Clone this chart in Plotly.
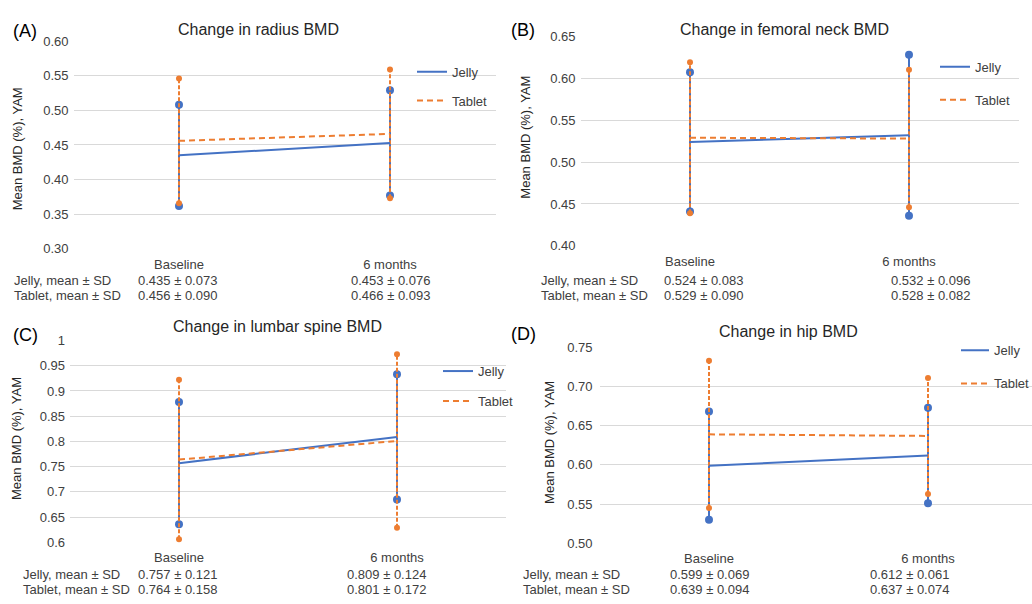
import plotly.graph_objects as go

W, H = 1032, 604

categories = ["Baseline", "6 months"]

radius_jelly_mean = [0.435, 0.453]
radius_jelly_sd = [0.073, 0.076]
radius_tablet_mean = [0.456, 0.466]
radius_tablet_sd = [0.090, 0.093]

femoral_jelly_mean = [0.524, 0.532]
femoral_jelly_sd = [0.083, 0.096]
femoral_tablet_mean = [0.529, 0.528]
femoral_tablet_sd = [0.090, 0.082]

lumbar_jelly_mean = [0.757, 0.809]
lumbar_jelly_sd = [0.121, 0.124]
lumbar_tablet_mean = [0.764, 0.801]
lumbar_tablet_sd = [0.158, 0.172]

hip_jelly_mean = [0.599, 0.612]
hip_jelly_sd = [0.069, 0.061]
hip_tablet_mean = [0.639, 0.637]
hip_tablet_sd = [0.094, 0.074]

panel_letters = ["(A)", "(B)", "(C)", "(D)"]
panel_titles = ["Change in radius BMD", "Change in femoral neck BMD",
                "Change in lumbar spine BMD", "Change in hip BMD"]
y_ranges = [[0.30, 0.60], [0.40, 0.65], [0.6, 1.0], [0.50, 0.75]]
y_formats = [".2f", ".2f", "", ".2f"]
series_names = ["Jelly", "Tablet"]
row_labels = ["Jelly, mean \u00b1 SD", "Tablet, mean \u00b1 SD"]

data = [
    [(radius_jelly_mean, radius_jelly_sd), (radius_tablet_mean, radius_tablet_sd)],
    [(femoral_jelly_mean, femoral_jelly_sd), (femoral_tablet_mean, femoral_tablet_sd)],
    [(lumbar_jelly_mean, lumbar_jelly_sd), (lumbar_tablet_mean, lumbar_tablet_sd)],
    [(hip_jelly_mean, hip_jelly_sd), (hip_tablet_mean, hip_tablet_sd)],
]

# ---- layout geometry (pixels) ----
geo = [
    dict(c0=179, c1=390, ytop=35, ybot=248, ylab=(17, 146), title=(258, 23), letter=(11, 25),
         legend=(412, 51, 9), rows=(280, 296), rowx=12, valshift=(-2, 0), ticks_gap=4),
    dict(c0=690, c1=909, ytop=30, ybot=245, ylab=(526, 134), title=(784, 23), letter=(509, 24),
         legend=(935, 46, 13), rows=(280, 296), rowx=539, valshift=(13, 21), ticks_gap=4),
    dict(c0=179, c1=397, ytop=342, ybot=549, ylab=(17, 443), title=(277, 328), letter=(11, 336),
         legend=(438, 358, 10), rows=(582, 597), rowx=21, valshift=(-2, -11), ticks_gap=4),
    # panel D key sits at the very right edge of the figure, so it is drawn as key marks
    dict(c0=709, c1=928, ytop=349, ybot=550, ylab=(550, 447), title=(788, 333), letter=(509, 335),
         legend=None, key=(961, 989, 992, (352, 386)),
         rows=(582, 597), rowx=521, valshift=(0, -19), ticks_gap=6),
]

BLUE = "#4472C4"
ORANGE = "#ED7D31"
FONT = "Liberation Sans, Arial, sans-serif"
TXT = "#404040"
colors = [BLUE, ORANGE]
mean_dash = ["solid", "6px,4px"]
bar_dash = ["solid", "4px,2px"]
cap_size = [8, 6]

fig = go.Figure()
annotations = []
shapes = []
layout = {}

for i in range(4):
    g = geo[i]
    sfx = "" if i == 0 else str(i + 1)
    xa, ya = "x" + sfx, "y" + sfx
    leg = "legend" + sfx
    step = g["c1"] - g["c0"]
    px0 = g["c0"] - step / 2
    px1 = g["c1"] + step / 2
    r0, r1 = -0.5, 1.5
    if px1 > W:
        r1 = 1.5 - (px1 - W) / step
        px1 = W
    layout["xaxis" + sfx] = dict(
        domain=[px0 / W, px1 / W], range=[r0, r1], anchor=ya,
        tickmode="array", tickvals=[0, 1], ticktext=categories,
        showgrid=False, zeroline=False, showline=False, ticks="",
        tickfont=dict(family=FONT, size=13, color=TXT), ticklabelstandoff=6,
    )
    layout["yaxis" + sfx] = dict(
        domain=[1 - g["ybot"] / H, 1 - g["ytop"] / H], range=y_ranges[i], anchor=xa,
        dtick=0.05, tick0=0, tickformat=y_formats[i],
        showgrid=True, gridcolor="#d9d9d9", gridwidth=1, zeroline=False, showline=False,
        ticks="", tickfont=dict(family=FONT, size=13, color=TXT), ticklabelstandoff=g["ticks_gap"],
    )
    has_legend = g["legend"] is not None
    if has_legend:
        lx, ly, gap = g["legend"]
        layout[leg] = dict(
            x=lx / W, y=1 - ly / H, xanchor="left", yanchor="top", bgcolor="rgba(0,0,0,0)",
            font=dict(family=FONT, size=13, color=TXT), tracegroupgap=gap,
            traceorder="grouped",
        )

    xs = [0, 1]
    for s in range(2):
        mean, sd = data[i][s]
        # error bars (mean +/- SD) with round caps
        ex, ey = [], []
        for k in range(2):
            ex += [xs[k], xs[k], None]
            ey += [mean[k] - sd[k], mean[k] + sd[k], None]
        fig.add_trace(go.Scatter(
            x=ex, y=ey, xaxis=xa, yaxis=ya, mode="lines+markers",
            line=dict(color=colors[s], width=2, dash=bar_dash[s]),
            marker=dict(color=colors[s], size=cap_size[s], symbol="circle"),
            showlegend=False, hoverinfo="skip", cliponaxis=False,
        ))
    for s in range(2):
        mean, sd = data[i][s]
        tr = dict(x=xs, y=mean, xaxis=xa, yaxis=ya, mode="lines", name=series_names[s],
                  line=dict(color=colors[s], width=2, dash=mean_dash[s]), cliponaxis=False)
        if has_legend:
            tr.update(legend=leg, legendgroup=f"{series_names[s]}{i}", showlegend=True)
        else:
            tr.update(showlegend=False)
        fig.add_trace(go.Scatter(**tr))

    if not has_legend:
        kx0, kx1, ktx, kys = g["key"]
        for s in range(2):
            shapes.append(dict(type="line", xref="paper", yref="paper",
                               x0=kx0 / W, x1=kx1 / W, y0=1 - kys[s] / H, y1=1 - kys[s] / H,
                               line=dict(color=colors[s], width=2, dash=mean_dash[s])))
            annotations.append(dict(text=series_names[s], xref="paper", yref="paper",
                                    x=ktx / W, y=1 - kys[s] / H, xanchor="left", yanchor="middle",
                                    showarrow=False, font=dict(family=FONT, size=13, color=TXT)))

    # titles and letters
    annotations.append(dict(text=panel_titles[i], xref="paper", yref="paper",
                            x=g["title"][0] / W, y=1 - g["title"][1] / H,
                            xanchor="center", yanchor="middle", showarrow=False,
                            font=dict(family=FONT, size=16, color="#262626")))
    annotations.append(dict(text=panel_letters[i], xref="paper", yref="paper",
                            x=g["letter"][0] / W, y=1 - g["letter"][1] / H,
                            xanchor="left", yanchor="middle", showarrow=False,
                            font=dict(family=FONT, size=18, color="#000000")))
    annotations.append(dict(text="Mean BMD (%), YAM", xref="paper", yref="paper",
                            x=g["ylab"][0] / W, y=1 - g["ylab"][1] / H, textangle=-90,
                            xanchor="center", yanchor="middle", showarrow=False,
                            font=dict(family=FONT, size=13, color="#262626")))
    # table rows below axis
    for r in range(2):
        mean, sd = data[i][r]
        yy = 1 - g["rows"][r] / H
        annotations.append(dict(text=row_labels[r], xref="paper", yref="paper",
                                x=g["rowx"] / W, y=yy, xanchor="left", yanchor="middle",
                                showarrow=False, font=dict(family=FONT, size=13, color=TXT)))
        for k in range(2):
            annotations.append(dict(text=f"{mean[k]:.3f} \u00b1 {sd[k]:.3f}",
                                    xref=xa, yref="paper", x=xs[k], y=yy,
                                    xshift=g["valshift"][k],
                                    xanchor="center", yanchor="middle", showarrow=False,
                                    font=dict(family=FONT, size=13, color=TXT)))

fig.update_layout(
    width=W, height=H, margin=dict(l=0, r=0, t=0, b=0),
    paper_bgcolor="white", plot_bgcolor="white",
    annotations=annotations, shapes=shapes, **layout,
)

fig.write_html("out.html", config={"displayModeBar": False},
               post_script="document.body.style.margin='0';")
